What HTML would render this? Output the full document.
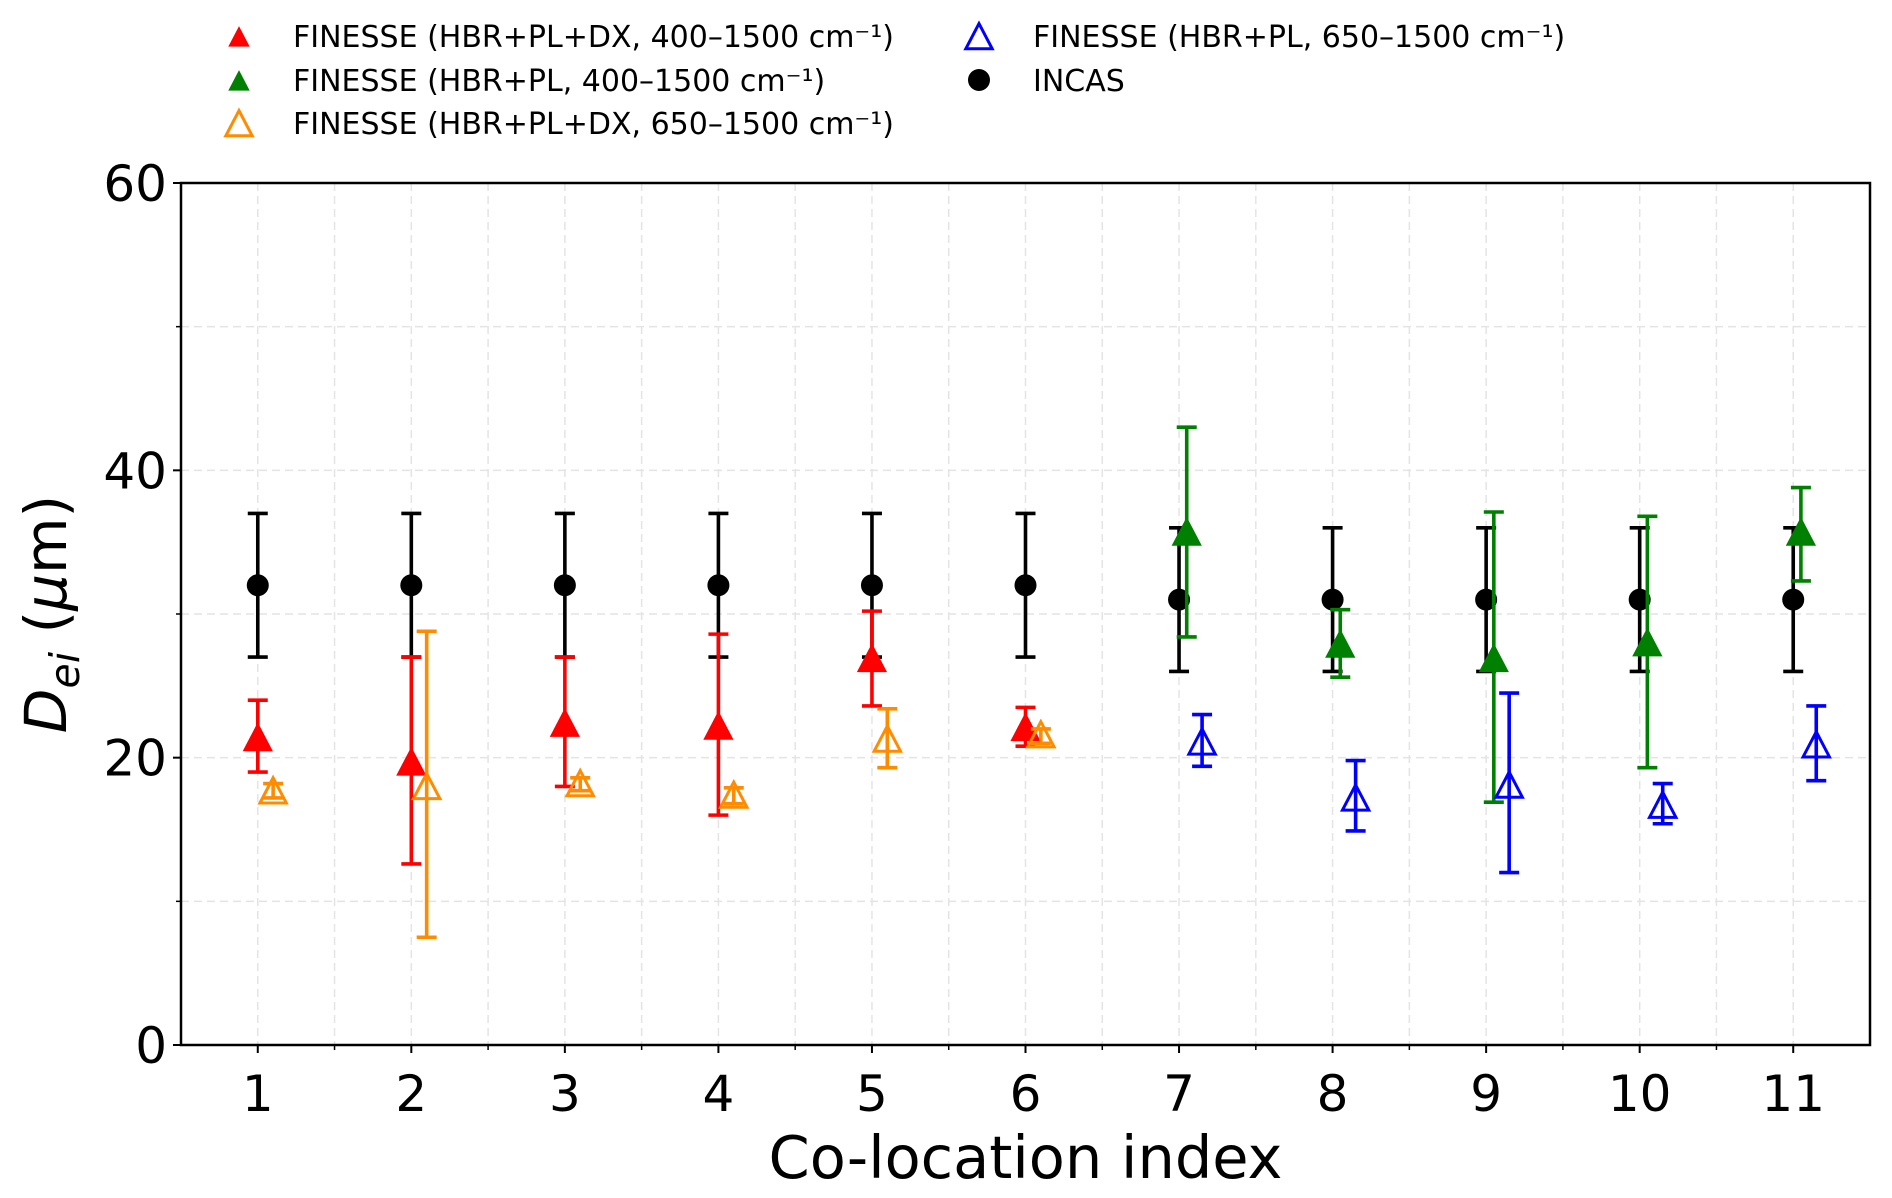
<!DOCTYPE html>
<html><head><meta charset="utf-8"><style>
body{margin:0;background:#fff;}
svg{display:block;font-family:"DejaVu Sans","Liberation Sans",sans-serif;}
</style></head><body>
<svg id="chart" width="1892" height="1198"></svg>
<script>
const categories=[1,2,3,4,5,6,7,8,9,10,11];
const incasX=[1,2,3,4,5,6,7,8,9,10,11];
const incasV=[32,32,32,32,32,32,31,31,31,31,31];
const incasLo=[27,27,27,27,27,27,26,26,26,26,26];
const incasHi=[37,37,37,37,37,37,36,36,36,36,36];
const redX=[1,2,3,4,5,6];
const redV=[21.3,19.6,22.3,22.1,26.8,22];
const redLo=[19,12.6,18,16,23.6,20.8];
const redHi=[24,27,27,28.6,30.2,23.5];
const orangeX=[1,2,3,4,5,6];
const orangeV=[17.6,17.9,18.1,17.3,21.2,21.5];
const orangeLo=[17.2,7.5,17.7,16.8,19.3,21];
const orangeHi=[18.2,28.8,18.6,17.9,23.4,22];
const greenX=[7,8,9,10,11];
const greenV=[35.6,27.8,26.8,27.9,35.6];
const greenLo=[28.4,25.6,16.9,19.3,32.3];
const greenHi=[43,30.3,37.1,36.8,38.8];
const blueX=[7,8,9,10,11];
const blueV=[21,17.1,18,16.6,20.8];
const blueLo=[19.4,14.9,12,15.4,18.4];
const blueHi=[23,19.8,24.5,18.2,23.6];
const yTicks=[0,20,40,60];

const L=181,R=1870,T=183,B=1045;
const X=v=>L+(v-0.5)/11*(R-L);
const Y=v=>B-v/60*(B-T);
const svg=document.getElementById('chart');
const NS='http://www.w3.org/2000/svg';
function mk(tag,attrs,parent){const e=document.createElementNS(NS,tag);for(const k in attrs)e.setAttribute(k,attrs[k]);(parent||svg).appendChild(e);return e;}

const grid=mk('g',{});


for(let v=0.5;v<=11.5;v+=0.5){mk('line',{x1:X(v),x2:X(v),y1:T,y2:B,stroke:'#e4e4e4','stroke-width':1.5,'stroke-dasharray':'8,5'},grid);}
for(let v=10;v<60;v+=10){mk('line',{x1:L,x2:R,y1:Y(v),y2:Y(v),stroke:'#e4e4e4','stroke-width':1.5,'stroke-dasharray':'8,5'},grid);}

const ax=mk('rect',{x:L,y:T,width:R-L,height:B-T,fill:'none',stroke:'#000','stroke-width':2.5});


categories.forEach(c=>{
  mk('line',{x1:X(c),x2:X(c),y1:B,y2:B+8,stroke:'#000','stroke-width':2});
  const t=mk('text',{x:X(c),y:B+66,'text-anchor':'middle','font-size':50});
  t.textContent=c;
  
  
});
for(let v=1.5;v<11.5;v+=1){mk('line',{x1:X(v),x2:X(v),y1:B,y2:B+5,stroke:'#000','stroke-width':1.5});}
yTicks.forEach(v=>{
  mk('line',{x1:L-8,x2:L,y1:Y(v),y2:Y(v),stroke:'#000','stroke-width':2});
  const t=mk('text',{x:L-14,y:Y(v)+18,'text-anchor':'end','font-size':50});
  t.textContent=v;
  
  
});
for(let v=10;v<60;v+=20){mk('line',{x1:L-5,x2:L,y1:Y(v),y2:Y(v),stroke:'#000','stroke-width':1.5});}
const xt=mk('text',{x:(L+R)/2,y:1178,'text-anchor':'middle','font-size':59});
xt.textContent='Co-location index';


const yt=mk('text',{x:0,y:0,'text-anchor':'middle','font-size':58,transform:`translate(66,${(T+B)/2}) rotate(-90)`});
yt.innerHTML='<tspan font-style="italic">D</tspan><tspan font-style="italic" font-size="41" dy="13">ei</tspan><tspan dy="-13"> (</tspan><tspan font-style="italic">μ</tspan><tspan>m)</tspan>';



function tri(g,cx,cy,s,color,filled){
  return mk('polygon',{points:`${cx},${cy-s*0.6} ${cx-s*0.55},${cy+s*0.45} ${cx+s*0.55},${cy+s*0.45}`,fill:filled?color:'none',stroke:color,'stroke-width':filled?1:3},g);
}
function series(name,xs,vs,lo,hi,off,color,shape){
  const g=mk('g',{});
  
  
  xs.forEach((x,i)=>{
    const cx=X(x+off);
    mk('line',{x1:cx,x2:cx,y1:Y(lo[i]),y2:Y(hi[i]),stroke:color,'stroke-width':3.6},g);
    mk('line',{x1:cx-10,x2:cx+10,y1:Y(lo[i]),y2:Y(lo[i]),stroke:color,'stroke-width':3.6},g);
    mk('line',{x1:cx-10,x2:cx+10,y1:Y(hi[i]),y2:Y(hi[i]),stroke:color,'stroke-width':3.6},g);
    let m;
    if(shape==='circle')m=mk('circle',{cx:cx,cy:Y(vs[i]),r:11,fill:color},g);
    else m=tri(g,cx,Y(vs[i]),shape==='tri'?26:24,color,shape==='tri');
    
    
  });
}
series('incas-series',incasX,incasV,incasLo,incasHi,0,'#000','circle');
series('finesse-hbr-pl-dx-400',redX,redV,redLo,redHi,0,'#ff0000','tri');
series('finesse-hbr-pl-dx-650',orangeX,orangeV,orangeLo,orangeHi,0.1,'#ff8c00','open');
series('finesse-hbr-pl-400',greenX,greenV,greenLo,greenHi,0.05,'#008000','tri');
series('finesse-hbr-pl-650',blueX,blueV,blueLo,blueHi,0.15,'#0000ff','open');

const leg=mk('g',{});


const entries=[
 [239,36,'#ff0000','tri','FINESSE (HBR+PL+DX, 400–1500 cm⁻¹)'],
 [239,80,'#008000','tri','FINESSE (HBR+PL, 400–1500 cm⁻¹)'],
 [239,123,'#ff8c00','open','FINESSE (HBR+PL+DX, 650–1500 cm⁻¹)'],
 [979,36,'#0000ff','open','FINESSE (HBR+PL, 650–1500 cm⁻¹)'],
 [979,80,'#000','circle','INCAS']];
entries.forEach(e=>{
  const g=mk('g',{},leg);
  
  
  if(e[3]==='circle')mk('circle',{cx:e[0],cy:e[1],r:11,fill:e[2]},g);
  else if(e[3]==='tri')tri(g,e[0],e[1]+2,18,e[2],true);
  else tri(g,e[0],e[1]+2,24,e[2],false);
  const t=mk('text',{x:e[0]+54,y:e[1]+11,'font-size':30},g);
  t.textContent=e[4];
});
</script>
</body></html>
